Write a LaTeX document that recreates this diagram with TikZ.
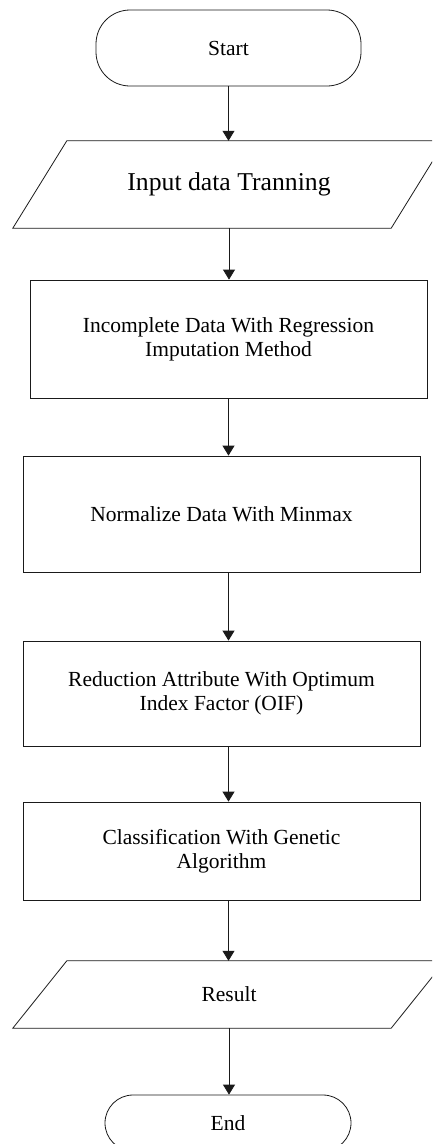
\documentclass[tikz,border=0pt]{standalone}
\usepackage{fontspec}
\setmainfont{Liberation Serif}
\usetikzlibrary{arrows.meta}
\definecolor{flwInk}{HTML}{1A1A1A}
\tikzset{
  flw line/.style={draw=flwInk, line width=0.8pt},
  flw arrow/.style={flw line, -{Triangle[width=12pt,length=10pt]}},
  flw term/.style={flw line, minimum width=265pt, minimum height=76pt, inner sep=0pt, font=\fontsize{21.5}{24}\selectfont},
  flw box/.style={flw line, minimum width=397pt, inner sep=0pt, align=center, font=\fontsize{21.5}{24}\selectfont},
  flw io/.style={minimum width=378pt, inner sep=0pt, align=center},
}

\begin{document}
\begin{tikzpicture}[x=1pt,y=-1pt]
  \clip (0,0) rectangle (432,1144);
  \node[flw term,rounded corners=34pt] (start) at (228.5,48) {Start};
  \node[flw io,minimum height=87pt,font=\fontsize{25.7}{30}\selectfont] (inp) at (229,184.5) {Input data Tranning};
  \node[flw box,minimum height=118pt] (imp) at (228.5,339) {Incomplete Data With Regression\\Imputation Method};
  \node[flw box,minimum height=116pt] (norm) at (221.5,514) {Normalize Data With Minmax};
  \node[flw box,minimum height=105pt] (red) at (221.5,693.5) {Reduction Attribute With Optimum\\Index Factor (OIF)};
  \node[flw box,minimum height=98pt] (cls) at (221.5,851) {Classification With Genetic\\Algorithm};
  \node[flw io,minimum height=67pt,font=\fontsize{21.5}{24}\selectfont] (res) at (229,994.5) {Result};
  \node[flw term,rounded corners=28pt,minimum width=246pt,minimum height=56pt] (end) at (228,1123) {End};
  % slanted data boxes
  \foreach \n in {inp,res}{\draw[flw line] ([xshift=27pt]\n.north west) -- ([xshift=27pt]\n.north east) -- ([xshift=-27pt]\n.south east) -- ([xshift=-27pt]\n.south west) -- cycle;}
  \draw[flw arrow] (start.south) -- (start.south |- inp.north);
  \draw[flw arrow] (inp.south) -- (inp.south |- imp.north);
  \draw[flw arrow] (imp.south) -- (imp.south |- norm.north);
  \draw[flw arrow] (imp.south |- norm.south) -- (imp.south |- red.north);
  \draw[flw arrow] (imp.south |- red.south) -- (imp.south |- cls.north);
  \draw[flw arrow] (imp.south |- cls.south) -- (imp.south |- res.north);
  \draw[flw arrow] (res.south) -- (res.south |- end.north);
\end{tikzpicture}
\end{document}
